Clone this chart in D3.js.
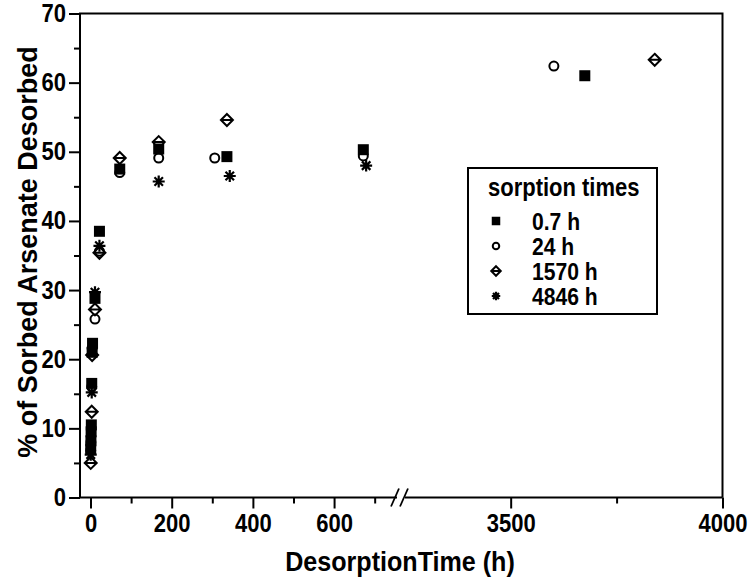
<!DOCTYPE html>
<html><head><meta charset="utf-8">
<script src="https://cdn.jsdelivr.net/npm/d3@7"></script>
<style>
body{margin:0;background:#fff;}
svg text{font-family:"Liberation Sans",Arial,Helvetica,sans-serif;font-weight:bold;fill:#000;}
</style></head>
<body><svg id="c" width="750" height="580"></svg>
<script>
// ---- data ----
const seriesNames = ["0.7 h","24 h","1570 h","4846 h"];
const sq_t = [0.5, 1, 1.5, 2, 3, 4, 5, 11, 22, 72, 168, 336, 672, 3675];
const sq_v = [7.0, 8.2, 9.5, 10.5, 16.5, 21.0, 22.3, 28.8, 38.5, 47.5, 50.4, 49.3, 50.3, 61.0];
const ci_t = [0.5, 1, 3, 4, 11, 22, 72, 168, 306, 672, 3602];
const ci_v = [6.8, 8.0, 16.0, 21.6, 25.8, 35.6, 47.0, 49.1, 49.1, 49.4, 62.4];
const di_t = [0.5, 3, 4, 11, 22, 72, 168, 336, 3840];
const di_v = [5.0, 12.4, 20.6, 27.2, 35.4, 49.1, 51.4, 54.6, 63.3];
const as_t = [0.5, 3, 11, 22, 168, 343, 679];
const as_v = [6.2, 15.2, 29.7, 36.4, 45.7, 46.5, 48.0];
const yTicks = [0,10,20,30,40,50,60,70];
const yMinor = [5,15,25,35,45,55,65];
const xTicksL = [0,200,400,600];
const xMinorL = [100,300,500,700];
const xTicksR = [3500,4000];
const xMinorR = [3750];

const svg = d3.select("#c");
const pL=80, pR=722.5, pT=13.5, pB=497.5;
const y = d3.scaleLinear().domain([0,70]).range([pB, pT]);
const xL = d3.scaleLinear().domain([-25.9, 755]).range([pL, 397]);
const xR = d3.scaleLinear().domain([3260, 4000]).range([409, pR]);
const xp = t => t < 2000 ? xL(t) : xR(t);
const SX = 0.88; // condensed look of the lettering

// frame (top, right, left)
svg.append("path").attr("d",`M${pL},${pB}V${pT}H${pR}V${pB}`)
  .attr("fill","none").attr("stroke","#000").attr("stroke-width",2);
// bottom axis line with break
svg.append("line").attr("x1",pL).attr("x2",397).attr("y1",pB).attr("y2",pB).attr("stroke","#000").attr("stroke-width",2);
svg.append("line").attr("x1",405).attr("x2",pR).attr("y1",pB).attr("y2",pB).attr("stroke","#000").attr("stroke-width",2);
[[391,399],[400,408]].forEach(([a,b])=>{
  svg.append("line").attr("x1",a).attr("y1",pB+9).attr("x2",b).attr("y2",pB-9)
    .attr("stroke","#000").attr("stroke-width",1.8);
});

function styleAxis(g, fs){
  g.select(".domain").remove();
  g.selectAll(".tick line").attr("stroke","#000").attr("stroke-width",2);
  g.selectAll(".tick text").attr("font-size",fs).attr("font-weight","bold")
    .attr("font-family",'"Liberation Sans",Arial,sans-serif').attr("fill","#000")
    .attr("transform",`scale(${SX},1)`);
}
// y axis
const gy = svg.append("g").attr("transform",`translate(${pL},0)`)
  .call(d3.axisLeft(y).tickValues(yTicks).tickSize(11).tickPadding(5).tickFormat(d3.format("d")));
styleAxis(gy,25);
const gym = svg.append("g").attr("transform",`translate(${pL},0)`)
  .call(d3.axisLeft(y).tickValues(yMinor).tickSize(6).tickFormat(""));
styleAxis(gym,25);
// x axes
const gxl = svg.append("g").attr("transform",`translate(0,${pB})`)
  .call(d3.axisBottom(xL).tickValues(xTicksL).tickSize(11).tickPadding(6).tickFormat(d3.format("d")));
styleAxis(gxl,25);
const gxlm = svg.append("g").attr("transform",`translate(0,${pB})`)
  .call(d3.axisBottom(xL).tickValues(xMinorL).tickSize(6).tickFormat(""));
styleAxis(gxlm,25);
const gxr = svg.append("g").attr("transform",`translate(0,${pB})`)
  .call(d3.axisBottom(xR).tickValues(xTicksR).tickSize(11).tickPadding(6).tickFormat(d3.format("d")));
styleAxis(gxr,25);
const gxrm = svg.append("g").attr("transform",`translate(0,${pB})`)
  .call(d3.axisBottom(xR).tickValues(xMinorR).tickSize(6).tickFormat(""));
styleAxis(gxrm,25);

// titles
svg.append("text").attr("transform","translate(400,571) scale(0.93,1)").attr("text-anchor","middle")
  .attr("font-size",27).text("DesorptionTime (h)");
svg.append("text").attr("transform","translate(37,252) rotate(-90)").attr("text-anchor","middle")
  .attr("font-size",27).text("% of Sorbed Arsenate Desorbed");

// markers
function drawMarker(g, type, cx, cy, s){
  if(type==="sq"){
    g.append("rect").attr("x",cx-s/2).attr("y",cy-s/2).attr("width",s).attr("height",s).attr("fill","#000");
  } else if(type==="ci"){
    g.append("circle").attr("cx",cx).attr("cy",cy).attr("r",s/2-1).attr("fill","none").attr("stroke","#000").attr("stroke-width",2);
  } else if(type==="di"){
    const h=s/2+0.5;
    g.append("path").attr("d",`M${cx},${cy-h}L${cx+h},${cy}L${cx},${cy+h}L${cx-h},${cy}Z M${cx-h},${cy}H${cx+h}`)
      .attr("fill","none").attr("stroke","#000").attr("stroke-width",2);
  } else {
    const h=s/2;
    let d="";
    for(let k=0;k<4;k++){
      const a=k*Math.PI/4;
      d+=`M${cx-h*Math.cos(a)},${cy-h*Math.sin(a)}L${cx+h*Math.cos(a)},${cy+h*Math.sin(a)}`;
    }
    g.append("path").attr("d",d).attr("stroke","#000").attr("stroke-width",2.2).attr("fill","none");
  }
}
const pts = svg.append("g");
ci_t.forEach((t,i)=>drawMarker(pts,"ci",xp(t),y(ci_v[i]),11));
di_t.forEach((t,i)=>drawMarker(pts,"di",xp(t),y(di_v[i]),11));
as_t.forEach((t,i)=>drawMarker(pts,"as",xp(t),y(as_v[i]),12));
sq_t.forEach((t,i)=>drawMarker(pts,"sq",xp(t),y(sq_v[i]),11));

// legend
const lg = svg.append("g");
lg.append("rect").attr("x",468).attr("y",168).attr("width",189).attr("height",146)
  .attr("fill","#fff").attr("stroke","#000").attr("stroke-width",2);
lg.append("text").attr("transform",`translate(488,196) scale(${SX},1)`).attr("font-size",25).text("sorption times");
const types=["sq","ci","di","as"];
seriesNames.forEach((n,i)=>{
  const cy = 222 + i*25;
  drawMarker(lg, types[i], 496, cy-1, 8.5);
  lg.append("text").attr("transform",`translate(532,${cy+8}) scale(${SX},1)`).attr("font-size",24).text(n);
});
</script></body></html>
